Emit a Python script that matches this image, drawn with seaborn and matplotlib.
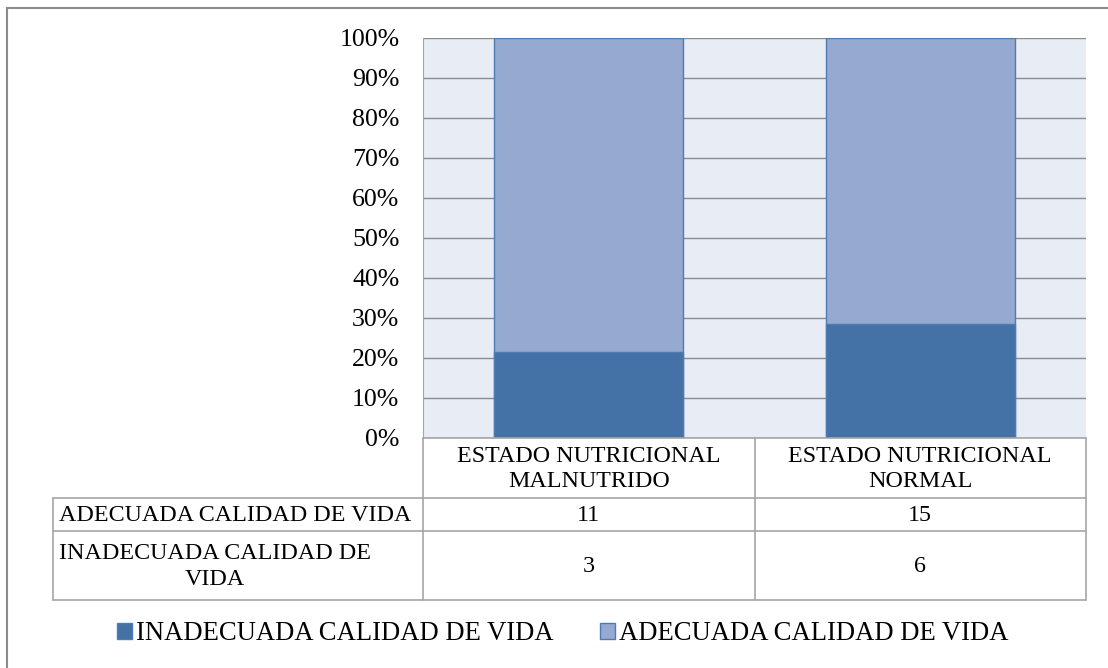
import numpy as np
import pandas as pd
import matplotlib.pyplot as plt
import seaborn as sns
from matplotlib.patches import Rectangle
from matplotlib.lines import Line2D

# Data
categorias = ["ESTADO NUTRICIONAL\nMALNUTRIDO", "ESTADO NUTRICIONAL\nNORMAL"]
adecuada = [11, 15]
inadecuada = [3, 6]
serie_adecuada = "ADECUADA CALIDAD DE VIDA"
serie_inadecuada = "INADECUADA CALIDAD DE VIDA"
fila_inadecuada = "INADECUADA CALIDAD DE\nVIDA"
tick_labels = ["0%", "10%", "20%", "30%", "40%", "50%", "60%", "70%", "80%", "90%", "100%"]

col_inadecuada = "#4472A6"
col_adecuada = "#95A9D1"
edge_col = "#4F7BB5"
grid_col = "#8C8C8C"
line_col = "#A6A6A6"

sns.set_style("white")
plt.rcParams['font.family'] = ['Liberation Serif', 'DejaVu Serif']
plt.rcParams['font.size'] = 17.3
plt.rcParams['text.color'] = 'black'
plt.rcParams['ytick.color'] = 'black'

W, H = 1108, 668
fig = plt.figure(figsize=(W / 100, H / 100), dpi=100)

# plot area in pixel coordinates
px_left, px_right, px_top, px_bottom = 423, 1086, 38, 438
ax = fig.add_axes([px_left / W, 1 - px_bottom / H,
                   (px_right - px_left) / W, (px_bottom - px_top) / H])

df = pd.DataFrame({"cat": categorias, "adecuada": adecuada, "inadecuada": inadecuada})
df["total"] = df["adecuada"] + df["inadecuada"]
df["pct_total"] = 100.0
df["pct_inad"] = df["inadecuada"] / df["total"] * 100

sns.barplot(data=df, x="cat", y="pct_total", color=col_adecuada, width=0.57,
            edgecolor=edge_col, linewidth=1, saturation=1, ax=ax, zorder=3)
sns.barplot(data=df, x="cat", y="pct_inad", color=col_inadecuada, width=0.57,
            edgecolor=edge_col, linewidth=1, saturation=1, ax=ax, zorder=4)

ax.set_facecolor("#E8ECF4")
ax.set_ylim(0, 100)
ax.set_xlim(-0.5, 1.5)
ax.set_yticks(np.arange(0, 101, 10))
ax.set_yticklabels(tick_labels)
ax.tick_params(axis='y', length=0, pad=17, labelsize=18.6, labelcolor='black')
ax.set_xticks([])
ax.set_xlabel("")
ax.set_ylabel("")
ax.yaxis.grid(True, color=grid_col, linewidth=1)
ax.set_axisbelow(True)
for s in ["top", "right", "bottom"]:
    ax.spines[s].set_visible(False)
ax.spines["left"].set_color(line_col)

# data table below the plot area
def fx(x):
    return x / W

def fy(y):
    return 1 - y / H

tbl_left = 53
row_y = [438, 498, 531, 600]
col_x = [px_left, (px_left + px_right) / 2, px_right]
lw = 1.2

def hline(x0, x1, y):
    fig.add_artist(Line2D([fx(x0), fx(x1)], [fy(y), fy(y)], color=line_col, lw=lw))

def vline(x, y0, y1):
    fig.add_artist(Line2D([fx(x), fx(x)], [fy(y0), fy(y1)], color=line_col, lw=lw))

hline(px_left, px_right, row_y[0])
hline(tbl_left, px_right, row_y[1])
hline(tbl_left, px_right, row_y[2])
hline(tbl_left, px_right, row_y[3])
for x in col_x:
    vline(x, row_y[0], row_y[3])
vline(tbl_left, row_y[1], row_y[3])

for i, cat in enumerate(categorias):
    cx = (col_x[i] + col_x[i + 1]) / 2
    fig.text(fx(cx), fy((row_y[0] + row_y[1]) / 2 + 1), cat, ha="center", va="center",
             linespacing=1.3)
    fig.text(fx(cx), fy((row_y[1] + row_y[2]) / 2 + 1), str(adecuada[i]), ha="center", va="center")
    fig.text(fx(cx), fy((row_y[2] + row_y[3]) / 2 + 1), str(inadecuada[i]), ha="center", va="center")

fig.text(fx(tbl_left + 6), fy((row_y[1] + row_y[2]) / 2 + 1), serie_adecuada, ha="left", va="center")
fig.text(fx(215), fy((row_y[2] + row_y[3]) / 2 + 1), fila_inadecuada,
         ha="center", va="center", linespacing=1.3, multialignment="center")

# legend
handles = [Rectangle((0, 0), 1, 1, facecolor=col_inadecuada, edgecolor=edge_col),
           Rectangle((0, 0), 1, 1, facecolor=col_adecuada, edgecolor=edge_col)]
fig.legend(handles, [serie_inadecuada, serie_adecuada], loc="center",
           bbox_to_anchor=(fx(563), fy(634)), ncol=2, frameon=False, fontsize=19.2,
           handlelength=0.55, handleheight=0.55, handletextpad=0.15, columnspacing=1.75)

# outer chart border
fig.add_artist(Rectangle((fx(7), -0.05), 1.2, fy(8) + 0.05, fill=False,
                         edgecolor="#8C8C8C", lw=1.5))

fig.savefig("out.png", dpi=100)
